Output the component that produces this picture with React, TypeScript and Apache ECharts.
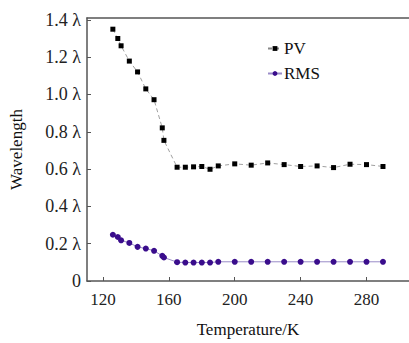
import React, { useEffect, useRef } from "react";
import * as echarts from "echarts";

const temps = [126, 129, 131, 136, 141, 146, 151, 156, 157, 165, 170, 175, 180, 185, 190, 200, 210, 220, 230, 240, 250, 260, 270, 280, 290];
const pvValues = [1.35, 1.3, 1.261, 1.179, 1.121, 1.03, 0.972, 0.821, 0.754, 0.61, 0.61, 0.612, 0.614, 0.599, 0.617, 0.628, 0.621, 0.633, 0.624, 0.614, 0.617, 0.608, 0.626, 0.624, 0.614];
const rmsValues = [0.248, 0.236, 0.218, 0.204, 0.183, 0.174, 0.162, 0.135, 0.126, 0.101, 0.099, 0.099, 0.099, 0.099, 0.103, 0.103, 0.103, 0.103, 0.103, 0.103, 0.103, 0.103, 0.103, 0.103, 0.103];
const xTicks = [120, 160, 200, 240, 280];
const yTicks = [0, 0.2, 0.4, 0.6, 0.8, 1.0, 1.2, 1.4];

const FONT = "Liberation Serif, Times New Roman, serif";

export default function App() {
  const ref = useRef<HTMLDivElement>(null);
  useEffect(() => {
    if (!ref.current) return;
    const chart = echarts.init(ref.current, undefined, { renderer: "svg" });
    const axisLine = { show: true, lineStyle: { color: "#555", width: 1.5 } };
    chart.setOption({
      animation: false,
      backgroundColor: "#fff",
      textStyle: { fontFamily: FONT, fontSize: 17 },
      grid: { left: 87, top: 18, right: 0, bottom: 60, containLabel: false },
      legend: {
        orient: "vertical",
        left: 262,
        top: 35,
        itemWidth: 14,
        itemHeight: 6,
        itemGap: 8,
        textStyle: { fontFamily: FONT, fontSize: 17, color: "#111", padding: [0, 0, 0, -3] },
        data: ["PV", "RMS"],
      },
      xAxis: [
        {
          type: "value",
          min: 110.3,
          max: 305.8,
          name: "Temperature/K",
          nameLocation: "middle",
          nameGap: 40,
          nameTextStyle: { fontFamily: FONT, fontSize: 17, color: "#111" },
          axisLine,
          splitLine: { show: false },
          axisTick: { inside: true, length: 4, customValues: xTicks, lineStyle: { color: "#555" } },
          axisLabel: {
            customValues: xTicks,
            margin: 10,
            fontFamily: FONT,
            fontSize: 17,
            color: "#222",
          },
        },
        {
          type: "value",
          position: "top",
          min: 110.3,
          max: 305.8,
          axisLine,
          axisTick: { show: false },
          axisLabel: { show: false },
          splitLine: { show: false },
        },
      ],
      yAxis: {
        type: "value",
        min: 0,
        max: 1.41,
        name: "Wavelength",
        nameLocation: "middle",
        nameGap: 62,
        nameTextStyle: { fontFamily: FONT, fontSize: 17, color: "#111" },
        axisLine,
        splitLine: { show: false },
        axisTick: { inside: true, length: 4, customValues: yTicks, lineStyle: { color: "#555" } },
        axisLabel: {
          customValues: yTicks,
          margin: 6,
          fontFamily: FONT,
          fontSize: 18,
          color: "#222",
          formatter: (v: number) => (v === 0 ? "0" : v.toFixed(1) + " λ"),
        },
      },
      series: [
        {
          name: "PV",
          type: "line",
          data: temps.map((t, i) => [t, pvValues[i]]),
          symbol: "rect",
          symbolSize: 5,
          itemStyle: { color: "#000" },
          lineStyle: { color: "#888", width: 0.8, type: [4, 3] },
        },
        {
          name: "RMS",
          type: "line",
          data: temps.map((t, i) => [t, rmsValues[i]]),
          symbol: "circle",
          symbolSize: 6,
          itemStyle: { color: "#3a0d8c" },
          lineStyle: { color: "#9a8cc8", width: 1 },
        },
      ],
    });
    return () => chart.dispose();
  }, []);
  return (
    <div
      ref={ref}
      style={{ position: "fixed", left: 0, top: 0, width: 409, height: 343, background: "#fff" }}
    />
  );
}
